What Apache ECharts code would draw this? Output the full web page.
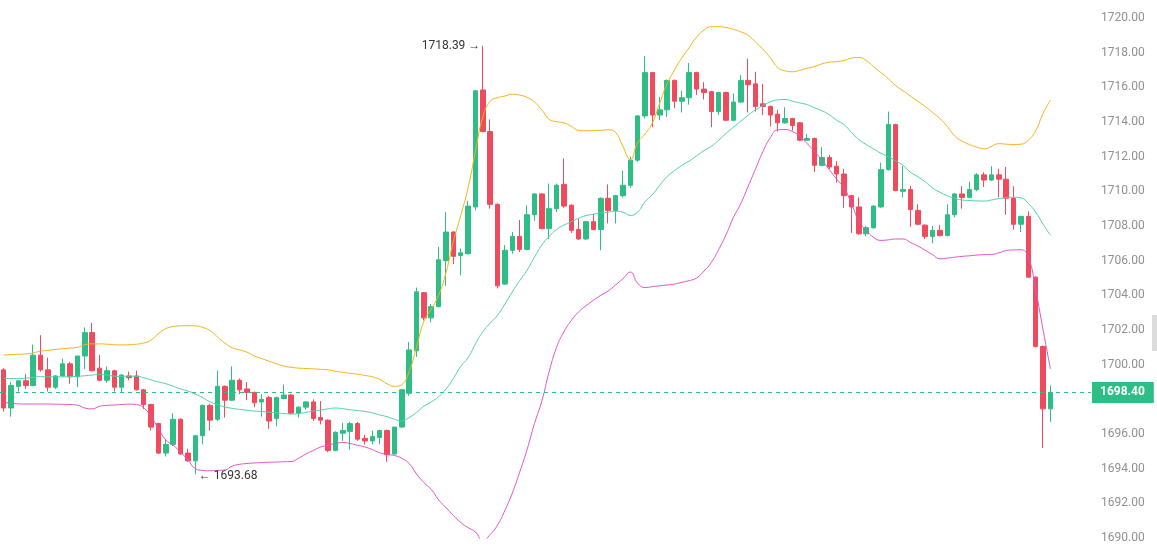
<!DOCTYPE html>
<html lang="en">
<head>
    <meta charset="UTF-8">
    <title>K线</title>
    <style>
        html, body { margin: 0; padding: 0; background: #fff; }
        #kline { width: 1157px; height: 552px; }
    </style>
</head>
<body>
<div id="kline"></div>
<script src="https://cdn.jsdelivr.net/npm/echarts@6/dist/echarts.min.js"></script>
<script>
    // 每根K线: [开, 收, 低, 高]
    var candles = [
        [1699.7,1697.5,1697.3,1699.8],[1697.5,1698.8,1697.0,1699.0],[1698.75,1699.07,1698.45,1699.1],[1699.07,1698.8,1698.6,1699.45],
        [1698.8,1700.55,1698.75,1701.15],[1700.55,1699.7,1699.6,1701.7],[1699.7,1698.7,1698.45,1700.4],[1698.7,1699.35,1698.6,1699.4],
        [1699.35,1700.05,1699.3,1700.35],[1700.05,1699.3,1698.9,1700.15],[1699.3,1700.5,1698.7,1700.5],[1700.5,1701.85,1699.75,1702.15],
        [1701.85,1699.65,1699.6,1702.4],[1699.8,1699.1,1699.05,1700.55],[1699.1,1699.65,1698.95,1699.9],[1699.65,1698.7,1698.45,1699.7],
        [1698.7,1699.4,1698.4,1699.45],[1699.35,1699.25,1699.1,1699.6],[1699.35,1698.55,1698.5,1699.65],[1698.55,1697.7,1697.45,1698.6],
        [1697.7,1696.4,1696.2,1697.75],[1696.6,1694.9,1694.85,1696.65],[1694.9,1695.4,1694.7,1695.7],[1695.4,1696.85,1695.3,1697.2],
        [1696.85,1694.85,1694.8,1696.9],[1694.9,1694.45,1694.4,1695.15],[1694.45,1695.9,1693.68,1695.95],[1695.9,1697.65,1695.4,1697.7],
        [1697.65,1696.8,1696.2,1697.75],[1696.85,1698.75,1696.75,1699.65],[1698.75,1697.95,1696.95,1698.8],[1697.95,1699.1,1697.9,1699.9],
        [1699.1,1698.55,1698.3,1699.2],[1698.6,1698.4,1697.95,1699.0],[1698.4,1697.8,1697.55,1698.45],[1697.85,1698.0,1697.0,1698.3],
        [1698.1,1696.75,1696.3,1698.2],[1696.9,1698.1,1696.45,1698.15],[1698.05,1698.25,1698.0,1698.85],[1698.25,1697.2,1697.15,1698.3],
        [1697.2,1697.55,1696.95,1697.6],[1697.55,1697.85,1697.4,1697.9],[1697.85,1696.9,1696.75,1698.0],[1696.95,1696.8,1696.55,1697.9],
        [1696.8,1695.05,1694.95,1696.85],[1695.05,1696.1,1695.0,1696.15],[1696.05,1696.2,1695.6,1696.65],[1696.15,1696.6,1695.1,1696.7],
        [1696.6,1695.7,1695.6,1696.7],[1695.75,1695.6,1695.4,1695.95],[1695.6,1695.85,1695.4,1696.2],[1695.8,1696.2,1695.4,1696.25],
        [1696.2,1694.8,1694.4,1696.25],[1694.85,1696.4,1694.8,1696.4],[1696.4,1698.55,1696.35,1698.6],[1698.35,1700.85,1698.2,1701.3],
        [1700.8,1704.2,1700.45,1704.45],[1704.15,1702.7,1702.55,1704.2],[1702.7,1703.35,1702.45,1703.5],[1703.35,1706.05,1703.3,1706.8],
        [1706.0,1707.65,1704.55,1708.8],[1707.65,1706.25,1705.8,1707.7],[1706.3,1706.45,1705.15,1706.7],[1706.4,1709.15,1706.35,1709.45],
        [1709.1,1715.8,1708.9,1715.85],[1715.85,1713.45,1713.4,1718.39],[1713.45,1709.25,1709.0,1714.15],[1709.25,1704.55,1704.4,1709.3],
        [1704.65,1706.6,1704.6,1706.9],[1706.6,1707.4,1706.4,1707.65],[1707.4,1706.65,1706.5,1708.35],[1706.65,1708.65,1706.6,1709.2],
        [1708.65,1709.85,1708.3,1709.9],[1709.85,1707.85,1707.8,1709.9],[1707.85,1709.0,1707.25,1710.45],[1709.0,1710.35,1708.8,1710.45],
        [1710.4,1709.15,1709.05,1711.9],[1709.2,1707.75,1707.6,1709.25],[1707.8,1707.25,1707.2,1708.4],[1707.25,1708.25,1707.2,1708.3],
        [1708.25,1707.8,1707.75,1708.7],[1707.8,1709.6,1706.6,1709.65],[1709.6,1708.9,1708.15,1710.4],[1708.9,1709.75,1708.15,1709.8],
        [1709.75,1710.35,1709.65,1711.2],[1710.35,1711.8,1710.2,1712.0],[1711.8,1714.35,1711.7,1714.4],[1714.35,1716.85,1714.2,1717.8],
        [1716.85,1714.4,1713.7,1716.9],[1714.4,1714.7,1714.1,1715.45],[1714.7,1716.4,1714.3,1716.45],[1716.4,1715.2,1714.8,1716.45],
        [1715.2,1715.4,1714.55,1715.8],[1715.4,1716.85,1715.0,1717.4],[1716.85,1715.9,1715.55,1716.9],[1715.9,1715.7,1715.3,1716.3],
        [1715.75,1714.6,1713.7,1715.8],[1714.6,1715.7,1714.4,1715.75],[1715.7,1714.1,1714.05,1715.75],[1714.1,1715.15,1714.05,1715.65],
        [1715.15,1716.4,1715.1,1716.7],[1716.4,1716.15,1714.55,1717.65],[1716.2,1714.9,1714.6,1716.9],[1715.05,1714.9,1714.4,1716.2],
        [1714.9,1714.4,1713.75,1714.95],[1714.45,1713.95,1713.45,1714.7],[1713.95,1714.2,1713.9,1714.85],[1714.2,1713.8,1713.5,1714.25],
        [1713.95,1712.95,1712.9,1714.0],[1712.95,1713.05,1712.9,1713.3],[1713.05,1711.5,1711.1,1713.1],[1711.5,1711.95,1711.45,1712.55],
        [1711.95,1711.4,1711.3,1712.1],[1711.45,1711.0,1710.5,1711.75],[1711.0,1709.75,1709.05,1711.3],[1709.75,1709.1,1707.6,1709.8],
        [1709.1,1707.55,1707.5,1709.65],[1707.55,1707.9,1707.4,1708.0],[1707.9,1709.15,1707.85,1709.2],[1709.1,1711.25,1709.05,1711.65],
        [1711.25,1713.85,1711.2,1714.6],[1713.85,1710.05,1710.0,1713.9],[1710.0,1710.1,1709.65,1711.45],[1710.1,1708.95,1707.95,1710.3],
        [1708.9,1708.1,1708.05,1709.25],[1708.05,1707.4,1707.25,1708.1],[1707.4,1707.75,1707.0,1708.0],[1707.75,1707.45,1707.4,1708.05],
        [1707.45,1708.65,1707.4,1709.25],[1708.65,1709.85,1708.5,1709.9],[1709.85,1709.65,1709.0,1710.3],[1709.65,1710.1,1709.6,1710.55],
        [1710.1,1710.95,1710.0,1711.05],[1710.95,1710.65,1710.25,1711.1],[1710.65,1710.95,1710.6,1711.45],[1710.95,1710.7,1709.65,1711.3],
        [1710.7,1709.6,1708.65,1711.4],[1709.6,1708.1,1707.8,1710.3],[1708.1,1708.55,1707.65,1708.6],[1708.55,1705.05,1705.0,1708.85],
        [1705.05,1701.05,1701.0,1705.1],[1701.05,1697.45,1695.2,1701.1],[1697.45,1698.4,1696.7,1698.8]
    ];

    // 布林带 上轨 / 中轨 / 下轨
    var upperBand = [
        1700.56,1700.58,1700.6,1700.62,1700.68,1700.78,1700.82,1700.88,1700.92,1700.96,
        1701.0,1701.15,1701.2,1701.2,1701.18,1701.15,1701.14,1701.15,1701.18,1701.25,
        1701.42,1701.8,1702.08,1702.2,1702.24,1702.25,1702.24,1702.15,1701.96,1701.6,
        1701.25,1700.98,1700.85,1700.72,1700.5,1700.35,1700.2,1700.05,1699.92,1699.85,
        1699.8,1699.78,1699.76,1699.73,1699.7,1699.62,1699.56,1699.5,1699.45,1699.38,
        1699.3,1699.15,1698.9,1698.75,1698.85,1699.6,1701.0,1702.5,1703.2,1704.0,
        1705.3,1707.1,1708.6,1710.2,1712.3,1714.3,1715.2,1715.4,1715.5,1715.6,
        1715.55,1715.42,1715.15,1714.7,1714.15,1714.02,1713.95,1713.75,1713.52,1713.5,
        1713.5,1713.52,1713.55,1713.4,1712.6,1711.83,1712.8,1713.3,1713.95,1715.1,
        1716.2,1717.0,1717.7,1718.3,1718.9,1719.3,1719.5,1719.5,1719.45,1719.35,
        1719.2,1719.0,1718.6,1718.2,1717.7,1717.15,1716.95,1716.9,1716.98,1717.1,
        1717.2,1717.35,1717.45,1717.48,1717.55,1717.68,1717.72,1717.55,1717.2,1716.85,
        1716.5,1716.1,1715.8,1715.5,1715.2,1714.9,1714.55,1714.2,1713.75,1713.2,
        1712.9,1712.7,1712.55,1712.45,1712.6,1712.75,1712.72,1712.7,1712.72,1712.95,
        1713.5,1714.5,1715.26
    ];
    var midBand = [
        1699.21,1699.2,1699.2,1699.22,1699.27,1699.31,1699.3,1699.3,1699.3,1699.31,
        1699.33,1699.36,1699.4,1699.44,1699.4,1699.34,1699.32,1699.34,1699.33,1699.25,
        1699.12,1699.0,1698.9,1698.75,1698.6,1698.48,1698.3,1698.1,1697.85,1697.7,
        1697.56,1697.48,1697.42,1697.37,1697.32,1697.3,1697.26,1697.22,1697.18,1697.15,
        1697.18,1697.25,1697.32,1697.38,1697.45,1697.5,1697.46,1697.4,1697.35,1697.3,
        1697.22,1697.1,1697.0,1696.85,1696.75,1696.95,1697.24,1697.6,1697.85,1698.15,
        1698.6,1699.2,1699.9,1700.4,1701.2,1701.9,1702.4,1702.85,1703.5,1704.2,
        1704.85,1705.45,1706.2,1706.9,1707.4,1707.8,1708.05,1708.25,1708.45,1708.6,
        1708.68,1708.75,1708.8,1708.85,1708.8,1708.61,1708.8,1709.4,1709.8,1710.35,
        1710.85,1711.2,1711.5,1711.75,1712.05,1712.35,1712.6,1712.95,1713.35,1713.7,
        1714.05,1714.4,1714.7,1714.95,1715.16,1715.28,1715.3,1715.2,1715.1,1715.0,
        1714.82,1714.65,1714.42,1714.1,1713.85,1713.4,1713.0,1712.7,1712.45,1712.2,
        1712.0,1711.75,1711.5,1711.1,1710.85,1710.55,1710.2,1709.95,1709.75,1709.6,
        1709.5,1709.47,1709.45,1709.44,1709.5,1709.58,1709.64,1709.66,1709.62,1709.3,
        1708.8,1708.1,1707.46
    ];
    var lowerBand = [
        1697.82,1697.78,1697.74,1697.73,1697.73,1697.73,1697.73,1697.72,1697.71,1697.7,
        1697.66,1697.5,1697.45,1697.6,1697.65,1697.67,1697.7,1697.72,1697.7,1697.5,
        1697.0,1696.3,1695.65,1695.35,1694.95,1694.5,1694.0,1693.9,1693.88,1693.9,
        1693.92,1694.15,1694.25,1694.3,1694.33,1694.35,1694.37,1694.38,1694.4,1694.41,
        1694.6,1694.85,1695.05,1695.25,1695.35,1695.45,1695.51,1695.45,1695.35,1695.25,
        1695.1,1694.92,1694.82,1694.76,1694.6,1694.3,1693.7,1693.2,1692.8,1692.2,
        1691.75,1691.3,1690.9,1690.6,1690.35,1689.85,1690.2,1690.75,1691.6,1692.6,
        1693.8,1695.1,1696.6,1697.9,1699.6,1701.0,1701.9,1702.55,1703.05,1703.4,
        1703.72,1704.0,1704.25,1704.6,1704.95,1705.34,1704.7,1704.45,1704.5,1704.55,
        1704.6,1704.65,1704.75,1704.85,1705.0,1705.4,1705.9,1706.65,1707.5,1708.5,
        1709.3,1710.3,1711.3,1712.3,1713.1,1713.55,1713.57,1713.45,1713.18,1712.75,
        1712.3,1711.8,1711.25,1710.7,1710.2,1709.3,1708.3,1707.75,1707.35,1707.17,
        1707.2,1707.25,1707.25,1707.05,1706.85,1706.6,1706.35,1706.11,1706.15,1706.2,
        1706.25,1706.28,1706.32,1706.35,1706.36,1706.45,1706.58,1706.62,1706.63,1706.2,
        1704.3,1702.0,1699.75
    ];

    var lastPrice = 1698.40;
    var highMark = { index: 65, value: 1718.39 };
    var lowMark = { index: 26, value: 1693.68 };
    var emptySlots = 5;   // 右侧留白

    var categories = [];
    for (var i = 0; i < candles.length + emptySlots; i++) {
        categories.push(i < candles.length ? String(i + 1) : '');
    }

    var upColor = '#2ebd85';
    var downColor = '#ef4b5d';

    var chart = echarts.init(document.getElementById('kline'));
    var option = {
        animation: false,
        backgroundColor: '#fff',
        textStyle: { fontFamily: 'Roboto, sans-serif' },
        grid: { left: 0, right: 66, top: 18, bottom: 14 },
        xAxis: {
            type: 'category',
            data: categories,
            boundaryGap: true,
            axisLine: { show: false },
            axisTick: { show: false },
            axisLabel: { show: false },
            splitLine: { show: false }
        },
        yAxis: {
            type: 'value',
            position: 'right',
            min: 1690,
            max: 1720,
            interval: 2,
            axisLine: { show: false },
            axisTick: { show: false },
            axisLabel: {
                color: '#909090',
                fontSize: 12,
                margin: 10,
                formatter: function (v) { return v.toFixed(2); }
            },
            splitLine: { show: false }
        },
        series: [
            {
                name: 'K',
                type: 'candlestick',
                data: candles.map(function (c) { return [c[0], c[1], c[2], c[3]]; }),
                barWidth: 5,
                itemStyle: {
                    color: upColor,
                    color0: downColor,
                    borderColor: upColor,
                    borderColor0: downColor,
                    borderWidth: 1
                },
                markLine: {
                    silent: true,
                    symbol: ['none', 'none'],
                    lineStyle: { color: upColor, type: [4, 4], width: 1 },
                    label: {
                        show: true,
                        position: 'end',
                        distance: 1,
                        formatter: lastPrice.toFixed(2),
                        color: '#fff',
                        fontWeight: 'bold',
                        fontSize: 12,
                        backgroundColor: upColor,
                        padding: [5, 9, 4, 8]
                    },
                    data: [{ yAxis: lastPrice }]
                },
                markPoint: {
                    silent: true,
                    symbol: 'circle',
                    symbolSize: 1,
                    itemStyle: { color: 'rgba(0,0,0,0)' },
                    data: [
                        {
                            coord: [highMark.index, highMark.value],
                            label: { show: true, position: 'left', distance: 2, color: '#333', fontSize: 12,
                                formatter: highMark.value.toFixed(2) + ' \u2192' }
                        },
                        {
                            coord: [lowMark.index, lowMark.value],
                            label: { show: true, position: 'right', distance: 3, color: '#333', fontSize: 12,
                                offset: [0, 2],
                                formatter: '\u2190 ' + lowMark.value.toFixed(2) }
                        }
                    ]
                }
            },
            {
                name: 'UP',
                type: 'line',
                data: upperBand,
                smooth: true,
                symbol: 'none',
                lineStyle: { color: '#f5b316', width: 1 }
            },
            {
                name: 'MB',
                type: 'line',
                data: midBand,
                smooth: true,
                symbol: 'none',
                lineStyle: { color: '#4fd1ae', width: 1 }
            },
            {
                name: 'DN',
                type: 'line',
                data: lowerBand,
                smooth: true,
                symbol: 'none',
                lineStyle: { color: '#e054c6', width: 1 }
            }
        ],
        graphic: [
            {
                type: 'rect',
                right: 0,
                top: 315,
                shape: { width: 5, height: 36 },
                style: { fill: '#dcdcdc' }
            }
        ]
    };
    chart.setOption(option);
</script>
</body>
</html>
